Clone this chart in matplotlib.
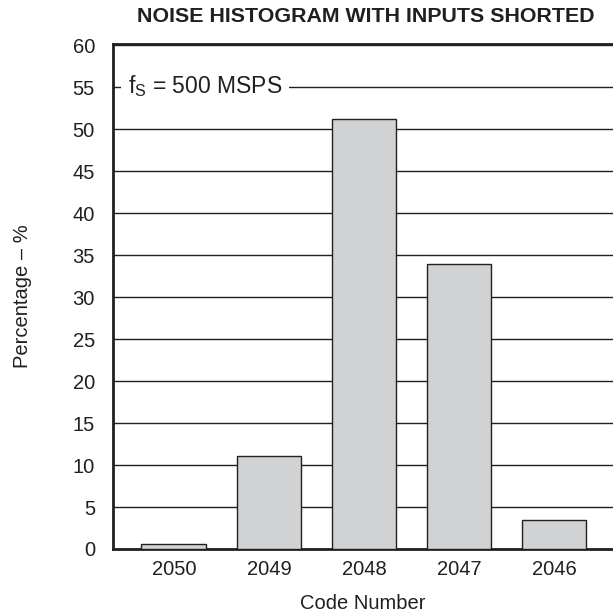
import matplotlib
matplotlib.use('Agg')
import matplotlib.pyplot as plt

# data
codes = ['2050', '2049', '2048', '2047', '2046']
percent = [0.55, 11.05, 51.2, 33.9, 3.45]
y_ticks = list(range(0, 65, 5))

plt.rcParams['font.family'] = ['Liberation Sans', 'DejaVu Sans']
ink = '#231f20'

fig = plt.figure(figsize=(6.13, 6.11), dpi=100)
ax = fig.add_axes([0.1843, 0.1015, 0.8157, 0.8273])

x = range(len(codes))
ax.bar(x, percent, width=0.68, color='#d1d2d4', edgecolor=ink, linewidth=1.0, zorder=3)

# horizontal grid lines
ax.set_yticks(y_ticks)
ax.yaxis.grid(True, color=ink, linewidth=1.0, zorder=0)
ax.set_axisbelow(True)

ax.set_xlim(-0.64, 4.62)
ax.set_ylim(0, 60.2)
ax.set_xticks(list(x))
ax.set_xticklabels(codes)
ax.tick_params(axis='both', length=0, labelsize=14.5, colors=ink)
ax.tick_params(axis='y', pad=13)
ax.tick_params(axis='x', pad=8)

for side in ['left', 'bottom', 'top']:
    ax.spines[side].set_linewidth(2.0)
    ax.spines[side].set_color(ink)
ax.spines['right'].set_visible(False)

ax.text(0.03, 0.915, r'f$_\mathregular{S}$ = 500 MSPS', transform=ax.transAxes,
        fontsize=16.5, color=ink, va='center', ha='left', zorder=5,
        bbox=dict(facecolor='white', edgecolor='none', pad=5))

ax.set_xlabel('Code Number', fontsize=14.5, color=ink, labelpad=11)
fig.text(0.036, 0.515, 'Percentage – %', rotation=90, fontsize=14.5, color=ink,
         ha='center', va='center')
fig.text(0.597, 0.973, 'NOISE HISTOGRAM WITH INPUTS SHORTED', fontsize=15.4,
         fontweight='bold', color=ink, ha='center', va='center')

fig.savefig('out.png', dpi=100)
